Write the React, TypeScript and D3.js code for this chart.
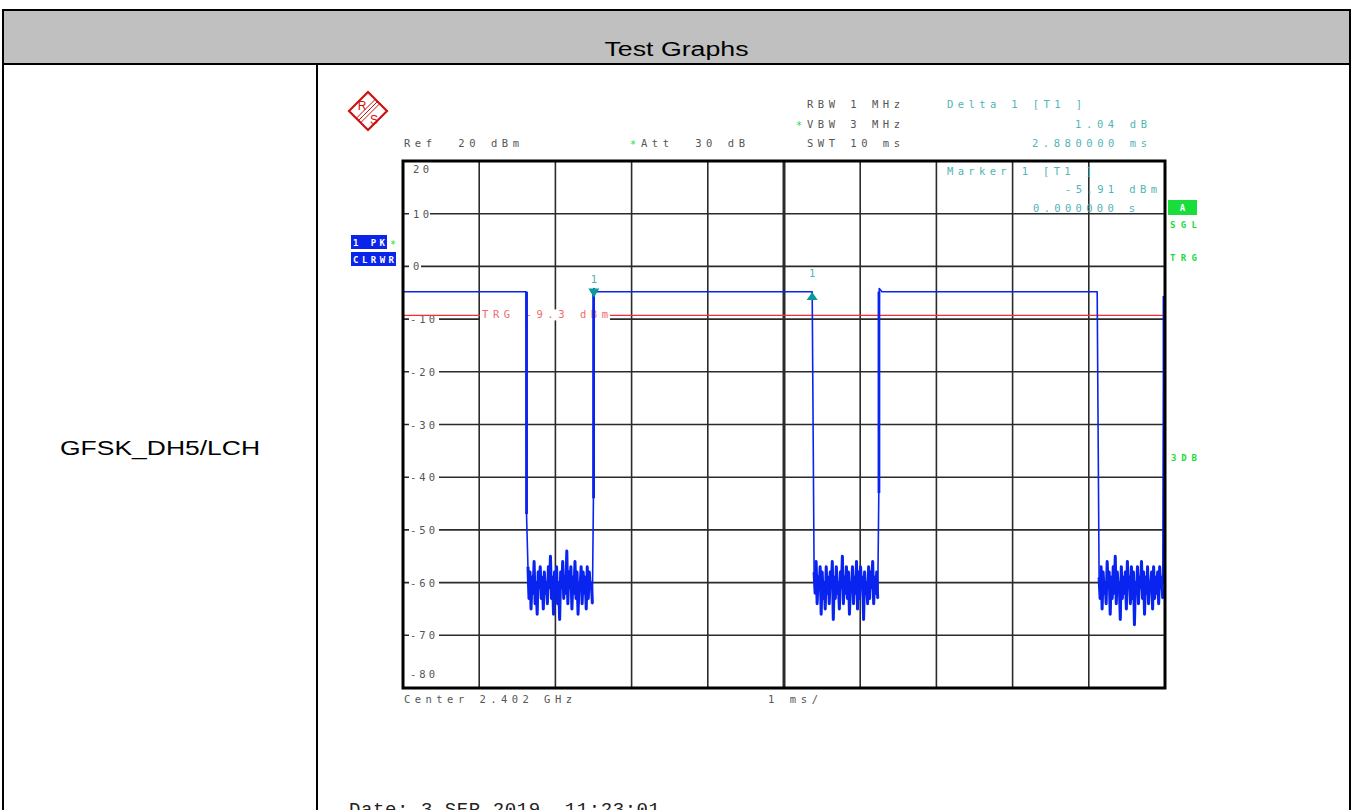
import React from 'react';
import * as d3 from 'd3';

// --- chart values ---
const yTicks = [10, 0, -10, -20, -30, -40, -50, -60, -70];
const xTicks = [0, 1, 2, 3, 4, 5, 6, 7, 8, 9, 10];
const highLevel = -4.8; // dBm while the burst is on
const fallTimes = [1.615, 5.37, 9.11]; // ms
const riseTimes = [2.505, 6.25, 9.99]; // ms
const fallKnees = [-47, null, null];
const riseKnees = [-44, -43, -60];
const lastRiseLevel = -5.6;
const trigLevel = -9.3;
const marker1 = { t: 2.505, v: -5.91 };
const delta1 = { t: 5.37, v: -4.87 };

const noise1 = [-57, -63, -58, -65, -59, -62, -56, -64, -60, -66, -58, -61, -57, -63, -59, -65, -58, -62, -60, -64, -57, -61, -55, -63, -59, -66, -58, -62, -57, -64, -60, -67, -58, -61, -56, -63, -59, -62, -54, -64, -58, -61, -57, -65, -59, -62, -56, -63, -58, -66, -60, -61, -57, -64, -58, -62, -59, -65, -57, -63, -58, -61, -60, -64];
const noise2 = [-58, -62, -56, -64, -59, -61, -57, -66, -58, -63, -60, -65, -57, -62, -59, -64, -58, -61, -56, -67, -59, -63, -57, -62, -60, -65, -58, -61, -55, -64, -59, -62, -57, -63, -58, -66, -60, -61, -57, -64, -59, -62, -56, -65, -58, -63, -57, -61, -59, -67, -58, -62, -60, -64, -57, -63, -58, -61, -56, -64, -59, -62, -58, -63];
const noise3 = [-59, -63, -57, -65, -58, -62, -60, -64, -56, -61, -58, -66, -59, -63, -57, -62, -55, -64, -58, -61, -60, -67, -57, -63, -59, -62, -58, -65, -56, -61, -59, -64, -57, -63, -58, -68, -60, -62, -57, -64, -59, -61, -56, -63, -58, -66, -59, -62, -57, -64, -60, -61, -58, -65, -57, -63, -59, -62, -58, -64, -57, -61, -59, -63];
const gaps = [noise1, noise2, noise3];

const W = 1355;
const H = 810;
const mono = "'DejaVu Sans Mono', 'Liberation Mono', monospace";
const sans = "'Liberation Sans', Arial, sans-serif";
const gray = '#555555';
const cyan = '#4fb5b5';
const green = '#19dd3a';
const blue = '#0a24f0';

const x = d3.scaleLinear().domain([0, 10]).range([403, 1165]);
const y = d3.scaleLinear().domain([-80, 20]).range([688, 161]);

function noiseTimes(i: number) {
  const n = gaps[i];
  return d3.scaleLinear().domain([0, n.length - 1]).range([fallTimes[i] + 0.025, riseTimes[i] - 0.02]);
}

function buildTrace() {
  const pts: [number, number][] = [[0, highLevel]];
  gaps.forEach((n, i) => {
    const f = fallTimes[i];
    const r = riseTimes[i];
    pts.push([f, highLevel]);
    const fk = fallKnees[i];
    if (fk != null) pts.push([f + 0.006, fk]);
    const tn = noiseTimes(i);
    n.forEach((v, j) => pts.push([tn(j), v]));
    if (i < 2) {
      pts.push([r - 0.006, riseKnees[i]]);
      pts.push([r, highLevel + 0.6]);
      pts.push([r + 0.035, highLevel]);
    } else {
      pts.push([r, lastRiseLevel]);
    }
  });
  return pts;
}

const line = d3
  .line<[number, number]>()
  .x((d) => x(d[0]))
  .y((d) => y(d[1]));

function T(props: any) {
  const { children, ...rest } = props;
  return (
    <text fontFamily={mono} fontSize={10.5} fill={gray} {...rest}>
      {children}
    </text>
  );
}

function Logo() {
  const h = 19;
  return (
    <g transform="translate(368,111)">
      <path d={`M${-h},0 L0,${-h} L${h},0 L0,${h} Z`} fill="white" stroke="#d01010" strokeWidth={2.2} />
      {[-2.2, 0, 2.2].map((o) => (
        <line
          key={o}
          x1={9.5 + o}
          y1={-9.5 + o}
          x2={-9.5 + o}
          y2={9.5 + o}
          stroke="#d01010"
          strokeWidth={1}
        />
      ))}
      <text x={-6} y={-1} fontFamily={sans} fontSize={12} fill="#d01010" textAnchor="middle">R</text>
      <text x={6} y={13} fontFamily={sans} fontSize={12} fill="#d01010" textAnchor="middle">S</text>
    </g>
  );
}

export default function App() {
  const trace = buildTrace();
  const gridColor = '#2b2b2b';
  const mx = x(marker1.t);
  const my = y(marker1.v);
  const dx = x(delta1.t);
  const dy = y(delta1.v);

  return (
    <div style={{ position: 'absolute', left: 0, top: 0 }}>
      <svg width={W} height={H} style={{ display: 'block', background: 'white' }}>
        {/* table frame */}
        <rect x={3} y={10} width={1347} height={54} fill="#c0c0c0" />
        <line x1={2} y1={10} x2={1351} y2={10} stroke="black" strokeWidth={2} />
        <line x1={2} y1={64} x2={1351} y2={64} stroke="black" strokeWidth={2} />
        <line x1={3} y1={9} x2={3} y2={H} stroke="black" strokeWidth={2} />
        <line x1={317} y1={64} x2={317} y2={H} stroke="black" strokeWidth={2} />
        <line x1={1350} y1={9} x2={1350} y2={H} stroke="black" strokeWidth={2} />
        <text x={676.5} y={56} textAnchor="middle" fontFamily={sans} fontSize={20} textLength={144} lengthAdjust="spacingAndGlyphs">
          Test Graphs
        </text>
        <text x={160} y={455} textAnchor="middle" fontFamily={sans} fontSize={20} textLength={200} lengthAdjust="spacingAndGlyphs">
          GFSK_DH5/LCH
        </text>

        <Logo />

        {/* header readouts */}
        <T x={404} y={147} textLength={115} lengthAdjust="spacing" xmlSpace="preserve">Ref  20 dBm</T>
        <T x={630} y={148} fill={green} fontSize={10}>*</T>
        <T x={641} y={147} textLength={104} lengthAdjust="spacing" xmlSpace="preserve">Att  30 dB</T>
        <T x={807} y={108} textLength={93} lengthAdjust="spacing">RBW 1 MHz</T>
        <T x={796} y={129} fill={green} fontSize={10}>*</T>
        <T x={807} y={128} textLength={93} lengthAdjust="spacing">VBW 3 MHz</T>
        <T x={807} y={147} textLength={93} lengthAdjust="spacing">SWT 10 ms</T>
        <T x={947} y={108} fill={cyan} textLength={135} lengthAdjust="spacing">Delta 1 [T1 ]</T>
        <T x={1075} y={128} fill={cyan} textLength={72} lengthAdjust="spacing">1.04 dB</T>
        <T x={1032} y={147} fill={cyan} textLength={115} lengthAdjust="spacing">2.880000 ms</T>

        {/* grid */}
        {xTicks.slice(1, -1).map((t) => (
          <line key={t} x1={x(t)} x2={x(t)} y1={y(20)} y2={y(-80)} stroke={gridColor} strokeWidth={t === 5 ? 3 : 1.6} />
        ))}
        {yTicks.map((v) => (
          <line key={v} x1={x(0)} x2={x(10)} y1={y(v)} y2={y(v)} stroke={gridColor} strokeWidth={1.6} />
        ))}
        {yTicks.map((v) => {
          const s = v < 0 ? `-${-v}` : `${v}`;
          return (
            <g key={v}>
              <rect x={409} y={y(v) - 5} width={s.length * 9 + 3} height={10} fill="white" />
              <T x={410 + (v < 0 ? 0 : 3)} y={y(v) + 4} textLength={s.length * 9 - 2} lengthAdjust="spacing">{s}</T>
            </g>
          );
        })}
        <T x={413} y={173} textLength={16} lengthAdjust="spacing">20</T>
        <T x={410} y={678} textLength={25} lengthAdjust="spacing">-80</T>

        {/* marker readout inside the graticule */}
        <T x={947} y={175} fill={cyan} textLength={145} lengthAdjust="spacing">Marker 1 [T1 ]</T>
        <T x={1065} y={193} fill={cyan} textLength={92} lengthAdjust="spacing">-5.91 dBm</T>
        <T x={1033} y={212} fill={cyan} textLength={102} lengthAdjust="spacing">0.000000 s</T>

        {/* trigger line */}
        <line x1={x(0)} x2={x(10)} y1={y(trigLevel)} y2={y(trigLevel)} stroke="#ff2a2a" strokeWidth={1.3} />
        <rect x={480} y={y(trigLevel) - 6} width={130} height={11} fill="white" />
        <T x={482} y={y(trigLevel) + 3} fill="#f26a6a" textLength={126} lengthAdjust="spacing">TRG -9.3 dBm</T>

        {/* trace */}
        <path d={line(trace) ?? ''} fill="none" stroke={blue} strokeWidth={1.6} strokeLinejoin="round" />
        {gaps.map((n, i) => {
          const tn = noiseTimes(i);
          const pts = n.map((v, j) => [tn(j), v] as [number, number]);
          return <path key={'n' + i} d={line(pts) ?? ''} fill="none" stroke={blue} strokeWidth={3} strokeLinejoin="round" />;
        })}
        {fallTimes.map((t, i) =>
          fallKnees[i] != null ? (
            <line key={'f' + i} x1={x(t) + 0.5} x2={x(t) + 0.5} y1={y(highLevel)} y2={y(fallKnees[i] as number)} stroke={blue} strokeWidth={2.8} />
          ) : null
        )}
        {riseTimes.map((t, i) => (
          <line
            key={'r' + i}
            x1={x(t) - 0.3}
            x2={x(t) - 0.3}
            y1={y(i < 2 ? highLevel : lastRiseLevel)}
            y2={y(riseKnees[i])}
            stroke={blue}
            strokeWidth={2.8}
          />
        ))}

        {/* markers */}
        <path d={`M${mx},${my} L${mx - 5.5},${my - 9} L${mx + 5.5},${my - 9} Z`} fill="#0a9a9a" />
        <T x={mx} y={283} fill={cyan} textAnchor="middle">1</T>
        <path d={`M${dx},${dy} L${dx - 5.5},${dy + 8} L${dx + 5.5},${dy + 8} Z`} fill="#0a9a9a" />
        <T x={dx} y={277} fill={cyan} textAnchor="middle">1</T>

        {/* frame */}
        <rect x={x(0)} y={y(20)} width={x(10) - x(0)} height={y(-80) - y(20)} fill="none" stroke="black" strokeWidth={3} />

        {/* left trace boxes */}
        <rect x={351} y={235} width={36} height={14} fill="#0a24ea" />
        <text x={353} y={246} fontFamily={mono} fontSize={9} fontWeight="bold" fill="white" textLength={32} lengthAdjust="spacing" xmlSpace="preserve">1 PK</text>
        <T x={390} y={248} fill={green} fontSize={10}>*</T>
        <rect x={351} y={252} width={45} height={14} fill="#0a24ea" />
        <text x={353} y={263} fontFamily={mono} fontSize={9} fontWeight="bold" fill="white" textLength={41} lengthAdjust="spacing">CLRWR</text>

        {/* right status labels */}
        <rect x={1168} y={200} width={29} height={15} fill={green} />
        <text x={1182.5} y={211} textAnchor="middle" fontFamily={mono} fontSize={9} fontWeight="bold" fill="white">A</text>
        <text x={1170} y={228} fontFamily={mono} fontSize={9} fontWeight="bold" fill={green} textLength={27} lengthAdjust="spacing">SGL</text>
        <text x={1170} y={261} fontFamily={mono} fontSize={9} fontWeight="bold" fill={green} textLength={27} lengthAdjust="spacing">TRG</text>
        <text x={1171} y={461} fontFamily={mono} fontSize={9} fontWeight="bold" fill={green} textLength={26} lengthAdjust="spacing">3DB</text>

        {/* bottom readouts */}
        <T x={404} y={703} textLength={168} lengthAdjust="spacing">Center 2.402 GHz</T>
        <T x={768} y={703} textLength={50} lengthAdjust="spacing">1 ms/</T>
        <text x={349} y={815} fontFamily="'Liberation Mono', monospace" fontSize={19} fill="#222" textLength={311} lengthAdjust="spacing" xmlSpace="preserve">
          Date: 3 SEP 2019  11:23:01
        </text>
      </svg>
    </div>
  );
}
